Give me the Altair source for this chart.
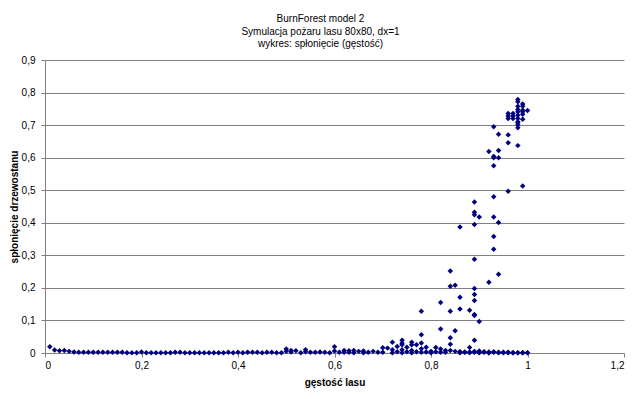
import altair as alt
import pandas as pd

# Baseline run: one point per density 0.01 .. 1.00
base_x = [0.01, 0.02, 0.03, 0.04, 0.05, 0.06, 0.07, 0.08, 0.09, 0.10,
          0.11, 0.12, 0.13, 0.14, 0.15, 0.16, 0.17, 0.18, 0.19, 0.20,
          0.21, 0.22, 0.23, 0.24, 0.25, 0.26, 0.27, 0.28, 0.29, 0.30,
          0.31, 0.32, 0.33, 0.34, 0.35, 0.36, 0.37, 0.38, 0.39, 0.40,
          0.41, 0.42, 0.43, 0.44, 0.45, 0.46, 0.47, 0.48, 0.49, 0.50,
          0.51, 0.52, 0.53, 0.54, 0.55, 0.56, 0.57, 0.58, 0.59, 0.60,
          0.61, 0.62, 0.63, 0.64, 0.65, 0.66, 0.67, 0.68, 0.69, 0.70,
          0.71, 0.72, 0.73, 0.74, 0.75, 0.76, 0.77, 0.78, 0.79, 0.80,
          0.81, 0.82, 0.83, 0.84, 0.85, 0.86, 0.87, 0.88, 0.89, 0.90,
          0.91, 0.92, 0.93, 0.94, 0.95, 0.96, 0.97, 0.98, 0.99, 1.00]
base_y = [0.019, 0.009, 0.007, 0.008, 0.005, 0.003, 0.002, 0.002, 0.002, 0.002,
          0.002, 0.002, 0.002, 0.002, 0.002, 0.002, 0.001, 0.001, 0.001, 0.003,
          0.001, 0.001, 0.001, 0.001, 0.001, 0.001, 0.002, 0.002, 0.001, 0.001,
          0.001, 0.001, 0.001, 0.001, 0.001, 0.001, 0.001, 0.002, 0.001, 0.002,
          0.001, 0.002, 0.002, 0.002, 0.001, 0.002, 0.002, 0.001, 0.001, 0.012,
          0.008, 0.007, 0.001, 0.01, 0.002, 0.002, 0.003, 0.002, 0.001, 0.019,
          0.002, 0.008, 0.007, 0.008, 0.005, 0.006, 0.002, 0.005, 0.002, 0.016,
          0.015, 0.033, 0.02, 0.039, 0.018, 0.033, 0.025, 0.031, 0.018, 0.005,
          0.017, 0.012, 0.008, 0.027, 0.005, 0.003, 0.003, 0.017, 0.005, 0.006,
          0.004, 0.003, 0.004, 0.002, 0.002, 0.002, 0.001, 0.001, 0.001, 0.001]

# Other runs
extra_x = [0.50, 0.51, 0.54, 0.60, 0.62, 0.63, 0.64, 0.66, 0.70, 0.72,
           0.73, 0.74, 0.74, 0.74, 0.75, 0.76, 0.76, 0.77, 0.78, 0.78,
           0.78, 0.79, 0.80, 0.81, 0.82, 0.82, 0.83, 0.84, 0.84, 0.84,
           0.84, 0.84, 0.85, 0.85, 0.86, 0.86, 0.86, 0.86, 0.87, 0.88,
           0.88, 0.89, 0.89, 0.89, 0.89, 0.89, 0.89, 0.89, 0.89, 0.89,
           0.89, 0.89, 0.89, 0.90, 0.90, 0.90, 0.91, 0.92, 0.92, 0.92,
           0.93, 0.93, 0.93, 0.93, 0.93, 0.93, 0.93, 0.93, 0.93, 0.94,
           0.94, 0.94, 0.94, 0.94, 0.94, 0.95, 0.96, 0.96, 0.96, 0.96,
           0.96, 0.96, 0.96, 0.97, 0.97, 0.97, 0.97, 0.98, 0.98, 0.98,
           0.98, 0.98, 0.98, 0.98, 0.98, 0.98, 0.98, 0.98, 0.98, 0.98,
           0.99, 0.99, 0.99, 0.99, 0.99, 0.99, 0.99, 0.99, 1.00, 1.00,
           0.72, 0.74, 0.76, 0.78, 0.80, 0.82, 0.86, 0.88, 0.90, 0.92]
extra_y = [0.005, 0.003, 0.004, 0.006, 0.002, 0.002, 0.001, 0.001, 0.002, 0.01,
           0.004, 0.03, 0.025, 0.01, 0.004, 0.025, 0.008, 0.004, 0.128, 0.056,
           0.013, 0.003, 0.002, 0.004, 0.155, 0.074, 0.002, 0.252, 0.205, 0.128,
           0.047, 0.008, 0.208, 0.068, 0.387, 0.171, 0.135, 0.004, 0.002, 0.131,
           0.003, 0.464, 0.432, 0.425, 0.395, 0.288, 0.198, 0.18, 0.161, 0.118,
           0.115, 0.039, 0.002, 0.418, 0.097, 0.002, 0.002, 0.217, 0.619, 0.001,
           0.695, 0.604, 0.6, 0.575, 0.48, 0.418, 0.358, 0.319, 0.002, 0.672,
           0.622, 0.6, 0.401, 0.242, 0.001, 0.001, 0.736, 0.728, 0.72, 0.67,
           0.646, 0.497, 0.001, 0.736, 0.728, 0.72, 0.001, 0.779, 0.772, 0.758,
           0.748, 0.741, 0.73, 0.72, 0.71, 0.707, 0.70, 0.692, 0.637, 0.001,
           0.765, 0.758, 0.746, 0.741, 0.733, 0.718, 0.513, 0.001, 0.745, 0.001,
           0.001, 0.001, 0.001, 0.002, 0.001, 0.002, 0.001, 0.001, 0.001, 0.001]

x_ticks = [0, 0.2, 0.4, 0.6, 0.8, 1.0, 1.2]
y_ticks = [0, 0.1, 0.2, 0.3, 0.4, 0.5, 0.6, 0.7, 0.8, 0.9]

df = pd.DataFrame({"x": base_x + extra_x, "y": base_y + extra_y})

FONT = "Liberation Sans"
label_expr = "replace(format(datum.value, '~g'), '.', ',')"

chart = alt.Chart(df).mark_point(
    shape="diamond", filled=True, size=30, color="#000080", opacity=1
).encode(
    x=alt.X("x:Q", scale=alt.Scale(domain=[0, 1.2], nice=False, zero=True),
            axis=alt.Axis(title="gęstość lasu", values=x_ticks, labelExpr=label_expr,
                          grid=False, titlePadding=7)),
    y=alt.Y("y:Q", scale=alt.Scale(domain=[0, 0.9], nice=False),
            axis=alt.Axis(title="spłonięcie drzewostanu", values=y_ticks, labelExpr=label_expr,
                          grid=True, titleX=-26, labelPadding=6)),
).properties(
    width=579,
    height=293,
    title=alt.Title(
        ["BurnForest model 2", "Symulacja pożaru lasu 80x80, dx=1", "wykres: spłonięcie (gęstość)"],
        font=FONT, fontSize=10, fontWeight="normal", color="#000000",
        lineHeight=12.5, anchor="middle", dx=-14, offset=6,
    ),
    autosize=alt.AutoSizeParams(type="none"),
    padding={"left": 37, "top": 52, "right": 8, "bottom": 46},
).configure_view(
    stroke=None
).configure_axis(
    labelFont=FONT, labelFontSize=10, labelColor="#000000",
    titleFont=FONT, titleFontSize=10, titleFontWeight="bold", titleColor="#000000",
    domainColor="#808080", tickColor="#808080", tickSize=4,
    gridColor="#808080", gridWidth=1, labelPadding=3,
)

chart.save("out.html", embed_options={"renderer": "svg", "actions": False})
